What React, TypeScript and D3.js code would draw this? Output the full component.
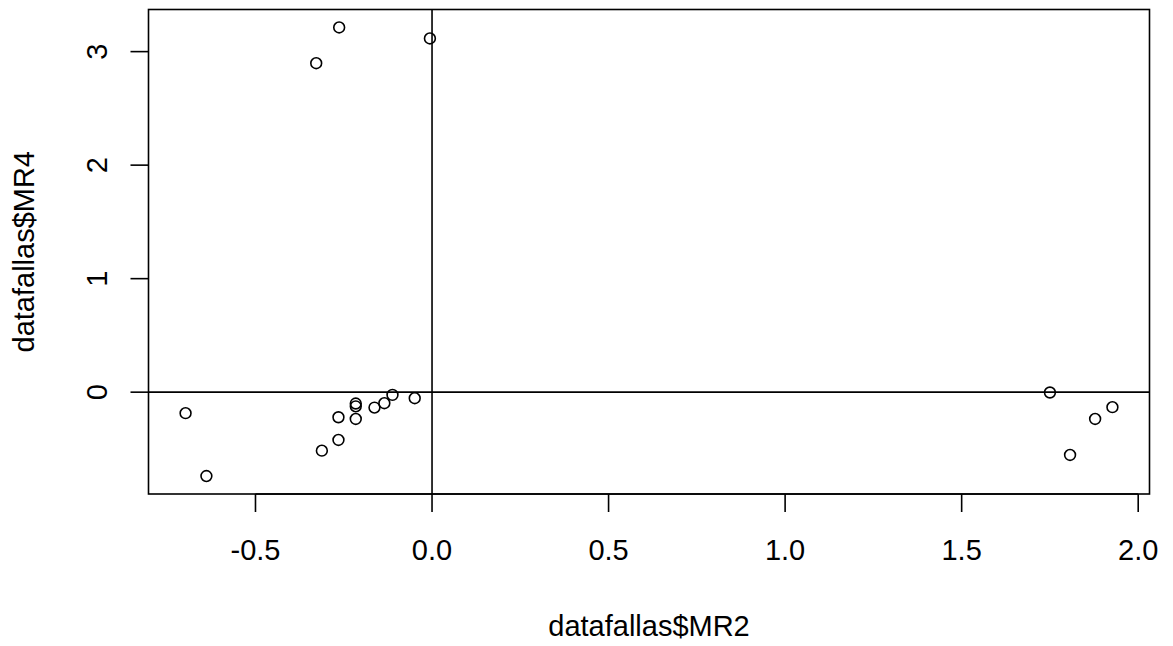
import React from "react";
import * as d3 from "d3";

const mr2: number[] = [
  -0.698, -0.639, -0.312, -0.265, -0.265, -0.216, -0.216, -0.216, -0.163, -0.135, -0.112, -0.049,
  1.750, 1.927, 1.878, 1.807,
  -0.263, -0.328, -0.006,
];
const mr4: number[] = [
  -0.185, -0.739, -0.515, -0.421, -0.221, -0.236, -0.100, -0.125, -0.136, -0.097, -0.024, -0.053,
  -0.003, -0.132, -0.236, -0.553,
  3.213, 2.898, 3.116,
];
const xTicks: number[] = [-0.5, 0.0, 0.5, 1.0, 1.5, 2.0];
const yTicks: number[] = [0, 1, 2, 3];
const xTitle = "datafallas$MR2";
const yTitle = "datafallas$MR4";

const W = 1173;
const H = 646;
const left = 148.5;
const right = 1149.5;
const top = 9.5;
const bottom = 494;
const FONT = "'Liberation Sans', Arial, sans-serif";
const FS = 29;

function padded(vals: number[]): [number, number] {
  const [a, b] = d3.extent(vals) as [number, number];
  const p = (b - a) * 0.04;
  return [a - p, b + p];
}

export default function App() {
  const x = d3.scaleLinear().domain(padded(mr2)).range([left, right]);
  const y = d3.scaleLinear().domain(padded(mr4)).range([bottom, top]);
  const pts = mr2.map((v, i) => [v, mr4[i]]);
  const sw = 1.6;
  return (
    <svg width={W} height={H} style={{ position: "absolute", left: 0, top: 0, background: "#fff" }}
      fontFamily={FONT} fontSize={FS}>
      <rect x={0} y={0} width={W} height={H} fill="#fff" />
      {/* reference lines */}
      <line x1={left} x2={right} y1={y(0)} y2={y(0)} stroke="#000" strokeWidth={sw} />
      <line x1={x(0)} x2={x(0)} y1={top} y2={bottom} stroke="#000" strokeWidth={sw} />
      {/* points */}
      {pts.map(([a, b], i) => (
        <circle key={i} cx={x(a)} cy={y(b)} r={5.4} fill="none" stroke="#000" strokeWidth={1.6} />
      ))}
      {/* box */}
      <rect x={left} y={top} width={right - left} height={bottom - top} fill="none" stroke="#000" strokeWidth={sw} />
      {/* x axis */}
      <line x1={x(xTicks[0])} x2={x(xTicks[xTicks.length - 1])} y1={bottom} y2={bottom} stroke="#000" strokeWidth={sw} />
      {xTicks.map((t) => (
        <g key={"x" + t}>
          <line x1={x(t)} x2={x(t)} y1={bottom} y2={bottom + 18} stroke="#000" strokeWidth={sw} />
          <text x={x(t)} y={560} textAnchor="middle" fill="#000">{t.toFixed(1)}</text>
        </g>
      ))}
      {/* y axis */}
      {yTicks.map((t) => (
        <g key={"y" + t}>
          <line x1={left - 18} x2={left} y1={y(t)} y2={y(t)} stroke="#000" strokeWidth={sw} />
          <text transform={`translate(${107},${y(t)}) rotate(-90)`} textAnchor="middle" fill="#000">{String(t)}</text>
        </g>
      ))}
      <text x={(left + right) / 2} y={636} textAnchor="middle" fill="#000">{xTitle}</text>
      <text transform={`translate(${34},${(top + bottom) / 2}) rotate(-90)`} textAnchor="middle" fill="#000">{yTitle}</text>
    </svg>
  );
}
